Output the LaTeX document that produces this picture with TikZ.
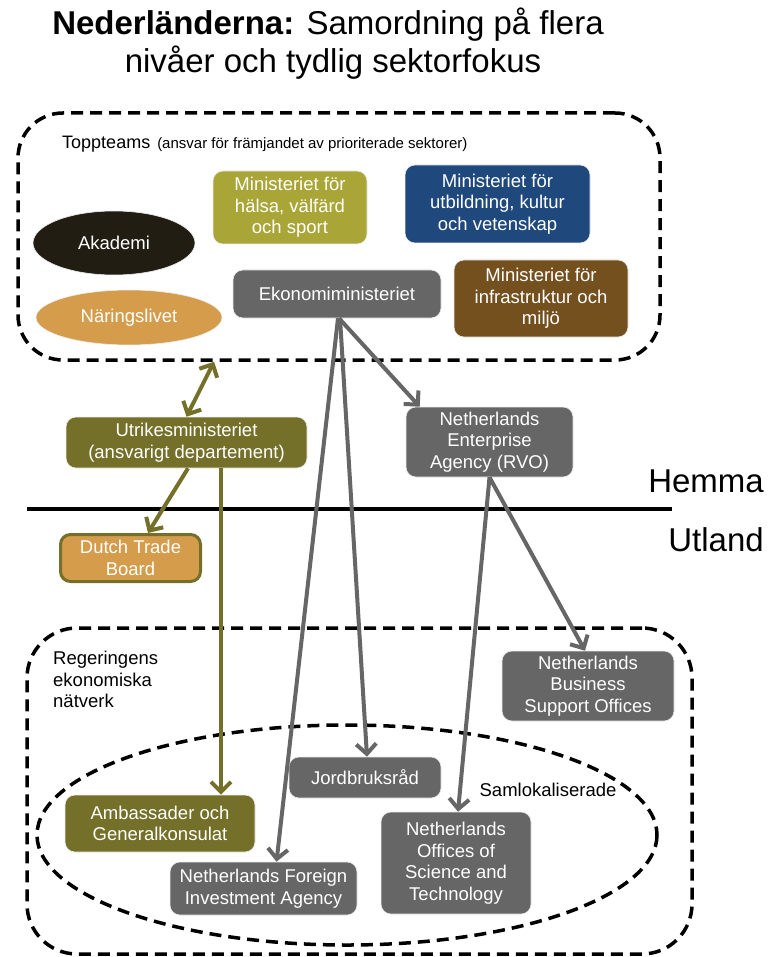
\documentclass[tikz,border=0pt]{standalone}
\usepackage{fontspec}
\setmainfont{Liberation Sans}
\usetikzlibrary{arrows.meta,shapes.geometric}
\definecolor{gbox}{HTML}{666666}
\definecolor{oliveC}{HTML}{747029}
\definecolor{yoliveC}{HTML}{A9A537}
\definecolor{navyC}{HTML}{1F497D}
\definecolor{brownC}{HTML}{74501F}
\definecolor{orangeC}{HTML}{D49C4B}
\definecolor{darkC}{HTML}{211D12}
\tikzset{
  box/.style={rectangle, rounded corners=10pt, inner sep=0pt, align=center, text=white,
    font=\fontsize{18.5}{21.5}\selectfont, draw=white!85!gray, line width=0.6pt},
  oval/.style={ellipse, inner sep=0pt, align=center, text=white,
    font=\fontsize{18.5}{21.5}\selectfont, draw=white!85!gray, line width=0.6pt},
  dashbox/.style={draw=black, line width=3.5pt, dash pattern=on 12pt off 7pt},
  garrow/.style={draw=gbox, line width=4pt, -{Straight Barb[length=10pt,width=20pt]}},
  oarrow/.style={draw=oliveC, line width=4pt, -{Straight Barb[length=10pt,width=20pt]}},
  lbl/.style={inner sep=0pt, font=\fontsize{18.5}{21.5}\selectfont, align=left},
  big/.style={inner sep=0pt, font=\fontsize{33}{38}\selectfont}
}
\begin{document}
\begin{tikzpicture}[x=1pt,y=-1pt]
\useasboundingbox[fill=white] (0,0) rectangle (771,957);

% title
\node[big, anchor=base] (t1) at (328,35) {\textbf{Nederländerna:} Samordning på flera};
\node[big, anchor=base] (t2) at (333,73) {nivåer och tydlig sektorfokus};

% containers
\node[dashbox, rectangle, rounded corners=45pt, minimum width=642pt, minimum height=247pt, inner sep=0pt] (tb) at (339,236.5) {};
\node[dashbox, rectangle, rounded corners=50pt, minimum width=665pt, minimum height=326pt, inner sep=0pt] (bb) at (359.5,791) {};
\draw[dashbox] (347,835) ellipse [x radius=310, y radius=110];

% labels
\node[anchor=base west, inner sep=0pt] (tt) at (62,149) {{\fontsize{18}{21}\selectfont Toppteams}\hspace{7pt}{\fontsize{15}{17}\selectfont (ansvar för främjandet av prioriterade sektorer)}};
\node[lbl, anchor=north west] (ren) at (53,651) {Regeringens\\ekonomiska\\nätverk};
\node[lbl, anchor=center] (sam) at (548,790) {Samlokaliserade};
\node[big, anchor=east] (hem) at (764,481) {Hemma};
\node[big, anchor=east] (utl) at (764,540) {Utland};

% divider
\coordinate (dl) at (27,509);
\coordinate (dr) at (672,509);
\draw[line width=4pt] (dl) -- (dr);

% top nodes
\node[oval, fill=darkC, minimum width=162pt, minimum height=64pt] (aka) at (114,243) {Akademi};
\node[oval, fill=orangeC, minimum width=186pt, minimum height=55pt] (nar) at (129,317.5) {Näringslivet};
\node[box, fill=yoliveC, minimum width=154pt, minimum height=73pt] (mhv) at (290,207.5) {Ministeriet för\\hälsa, välfärd\\och sport};
\node[box, fill=navyC, minimum width=185pt, minimum height=78pt] (muk) at (497.5,204) {Ministeriet för\\utbildning, kultur\\och vetenskap};
\node[box, fill=gbox, minimum width=208pt, minimum height=48pt] (eko) at (337,294) {Ekonomiministeriet};
\node[box, fill=brownC, minimum width=174pt, minimum height=77pt] (mim) at (541,298.5) {Ministeriet för\\infrastruktur och\\miljö};

% middle nodes
\node[box, fill=oliveC, minimum width=241pt, minimum height=51pt] (utr) at (186.5,442.5) {Utrikesministeriet\\(ansvarigt departement)};
\node[box, fill=orangeC, draw=oliveC, line width=3pt, minimum width=140pt, minimum height=47pt] (dtb) at (130.5,558) {Dutch Trade\\Board};
\node[box, fill=gbox, minimum width=167pt, minimum height=70pt] (rvo) at (489.5,442) {Netherlands\\Enterprise\\Agency (RVO)};

% bottom nodes
\node[box, fill=gbox, minimum width=172pt, minimum height=70pt] (bso) at (588,686) {Netherlands\\Business\\Support Offices};
\node[box, fill=gbox, minimum width=152pt, minimum height=41pt] (jord) at (365,777.5) {Jordbruksråd};
\node[box, fill=oliveC, minimum width=190pt, minimum height=57pt] (amb) at (160,823.5) {Ambassader och\\Generalkonsulat};
\node[box, fill=gbox, minimum width=187pt, minimum height=53pt] (nfia) at (263.5,888.5) {Netherlands Foreign\\Investment Agency};
\node[box, fill=gbox, minimum width=150pt, minimum height=102pt] (nost) at (456,863) {Netherlands\\Offices of\\Science and\\Technology};

% connectors
\draw[garrow] ([xshift=1pt]eko.south) -- ([xshift=13pt]nfia.north);
\draw[garrow] ([xshift=3pt]eko.south) -- ([xshift=2pt]jord.north);
\draw[garrow] ([xshift=2pt]eko.south) -- ([xshift=14pt]rvo.north west);
\draw[garrow] (rvo.south) -- ([xshift=2pt]nost.north);
\draw[garrow] (rvo.south) -- ([xshift=-3pt]bso.north);

\draw[draw=oliveC, line width=4pt, {Straight Barb[length=10pt,width=20pt]}-{Straight Barb[length=10pt,width=20pt]}] ([xshift=-125pt]tb.south) -- (utr.north);
\draw[oarrow] ([xshift=1.5pt]utr.south) -- ([xshift=17.5pt]dtb.north);
\coordinate (uv) at ([xshift=34.5pt]utr.south);
\draw[oarrow] (uv) -- (uv |- amb.north);
\end{tikzpicture}
\end{document}
